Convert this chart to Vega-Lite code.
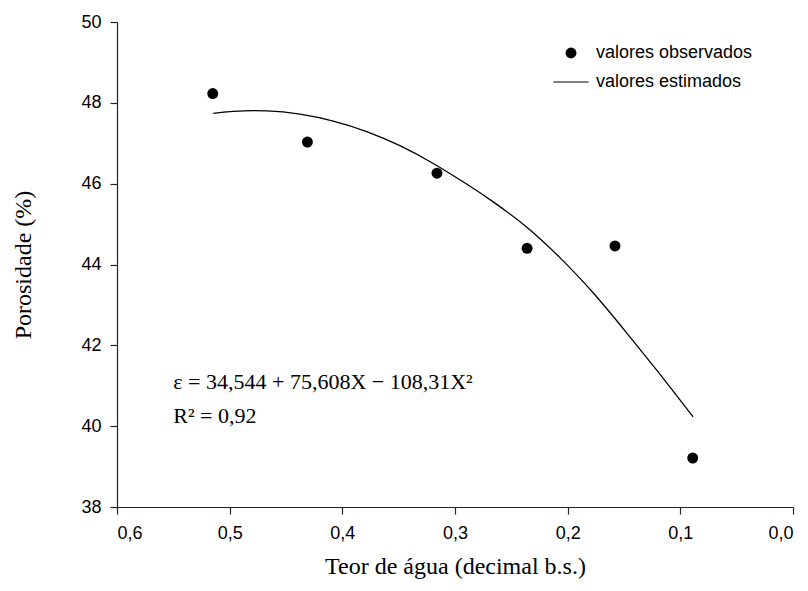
{
  "$schema": "https://vega.github.io/schema/vega-lite/v6.json",
  "width": 676,
  "height": 485,
  "autosize": "none",
  "padding": {"left": 117, "top": 22, "right": 15, "bottom": 84},
  "background": "white",
  "config": {
    "view": {"stroke": null},
    "axis": {
      "grid": false,
      "domainColor": "#222",
      "domainWidth": 1.2,
      "tickColor": "#222",
      "tickWidth": 1.2,
      "tickSize": 7,
      "labelFont": "Liberation Sans",
      "labelFontSize": 18,
      "labelColor": "black",
      "titleFont": "Liberation Serif",
      "titleFontSize": 24,
      "titleFontWeight": "normal",
      "titleColor": "black"
    }
  },
  "datasets": {
    "obs": [
      {"x": 0.515, "y": 48.23, "serie": "valores observados"},
      {"x": 0.431, "y": 47.03, "serie": "valores observados"},
      {"x": 0.316, "y": 46.26, "serie": "valores observados"},
      {"x": 0.236, "y": 44.40, "serie": "valores observados"},
      {"x": 0.158, "y": 44.46, "serie": "valores observados"},
      {"x": 0.089, "y": 39.21, "serie": "valores observados"}
    ],
    "est": [
      {"x": 0.5146, "y": 47.74},
      {"x": 0.4968, "y": 47.79},
      {"x": 0.4672, "y": 47.80},
      {"x": 0.4376, "y": 47.72},
      {"x": 0.4081, "y": 47.55},
      {"x": 0.3784, "y": 47.29},
      {"x": 0.3489, "y": 46.94},
      {"x": 0.3193, "y": 46.50},
      {"x": 0.2897, "y": 45.99},
      {"x": 0.2661, "y": 45.55},
      {"x": 0.2365, "y": 44.93},
      {"x": 0.2069, "y": 44.17},
      {"x": 0.1774, "y": 43.30},
      {"x": 0.1477, "y": 42.31},
      {"x": 0.1182, "y": 41.29},
      {"x": 0.0886, "y": 40.23}
    ],
    "anot": [{"a": 1}]
  },
  "encoding": {
    "x": {
      "type": "quantitative",
      "scale": {"domain": [0, 0.6], "reverse": true, "nice": false, "zero": false},
      "axis": {
        "title": "Teor de água (decimal b.s.)",
        "values": [0, 0.1, 0.2, 0.3, 0.4, 0.5, 0.6],
        "labelExpr": "replace(format(datum.value, '.1f'), '.', ',')",
        "labelPadding": 10,
        "titlePadding": 12
      }
    },
    "y": {
      "type": "quantitative",
      "scale": {"domain": [38, 50], "nice": false, "zero": false},
      "axis": {
        "title": "Porosidade (%)",
        "values": [38, 40, 42, 44, 46, 48, 50],
        "labelPadding": 9,
        "titlePadding": 45
      }
    }
  },
  "layer": [
    {
      "data": {"name": "est"},
      "mark": {"type": "line", "color": "black", "strokeWidth": 1.3, "interpolate": "natural"},
      "encoding": {
        "x": {"field": "x", "type": "quantitative"},
        "y": {"field": "y", "type": "quantitative"}
      }
    },
    {
      "data": {"name": "obs"},
      "mark": {"type": "point", "filled": true, "color": "black", "size": 120, "opacity": 1},
      "encoding": {
        "x": {"field": "x", "type": "quantitative"},
        "y": {"field": "y", "type": "quantitative"},
        "shape": {
          "field": "serie",
          "type": "nominal",
          "scale": {
            "domain": ["valores observados", "valores estimados"],
            "range": ["circle", "M-3.2,-0.11H3.2V0.11H-3.2Z"]
          },
          "legend": {
            "title": null,
            "orient": "none",
            "legendX": 445,
            "legendY": 22,
            "labelFont": "Liberation Sans",
            "labelFontSize": 18,
            "labelColor": "black",
            "symbolSize": 120,
            "symbolFillColor": "black",
            "symbolStrokeWidth": 0,
            "rowPadding": 11,
            "labelOffset": 16,
            "encode": {
              "symbols": {
                "update": {
                  "fill": {"value": "black"},
                  "opacity": {"value": 1}
                }
              }
            }
          }
        }
      }
    },
    {
      "data": {"name": "anot"},
      "mark": {"type": "text", "font": "Liberation Serif", "fontSize": 22, "align": "left", "baseline": "alphabetic", "color": "black"},
      "encoding": {
        "x": {"datum": 0.55},
        "y": {"datum": 40.92},
        "text": {"value": "ε = 34,544 + 75,608X − 108,31X²"}
      }
    },
    {
      "data": {"name": "anot"},
      "mark": {"type": "text", "font": "Liberation Serif", "fontSize": 22, "align": "left", "baseline": "alphabetic", "color": "black"},
      "encoding": {
        "x": {"datum": 0.55},
        "y": {"datum": 40.08},
        "text": {"value": "R² = 0,92"}
      }
    }
  ]
}
